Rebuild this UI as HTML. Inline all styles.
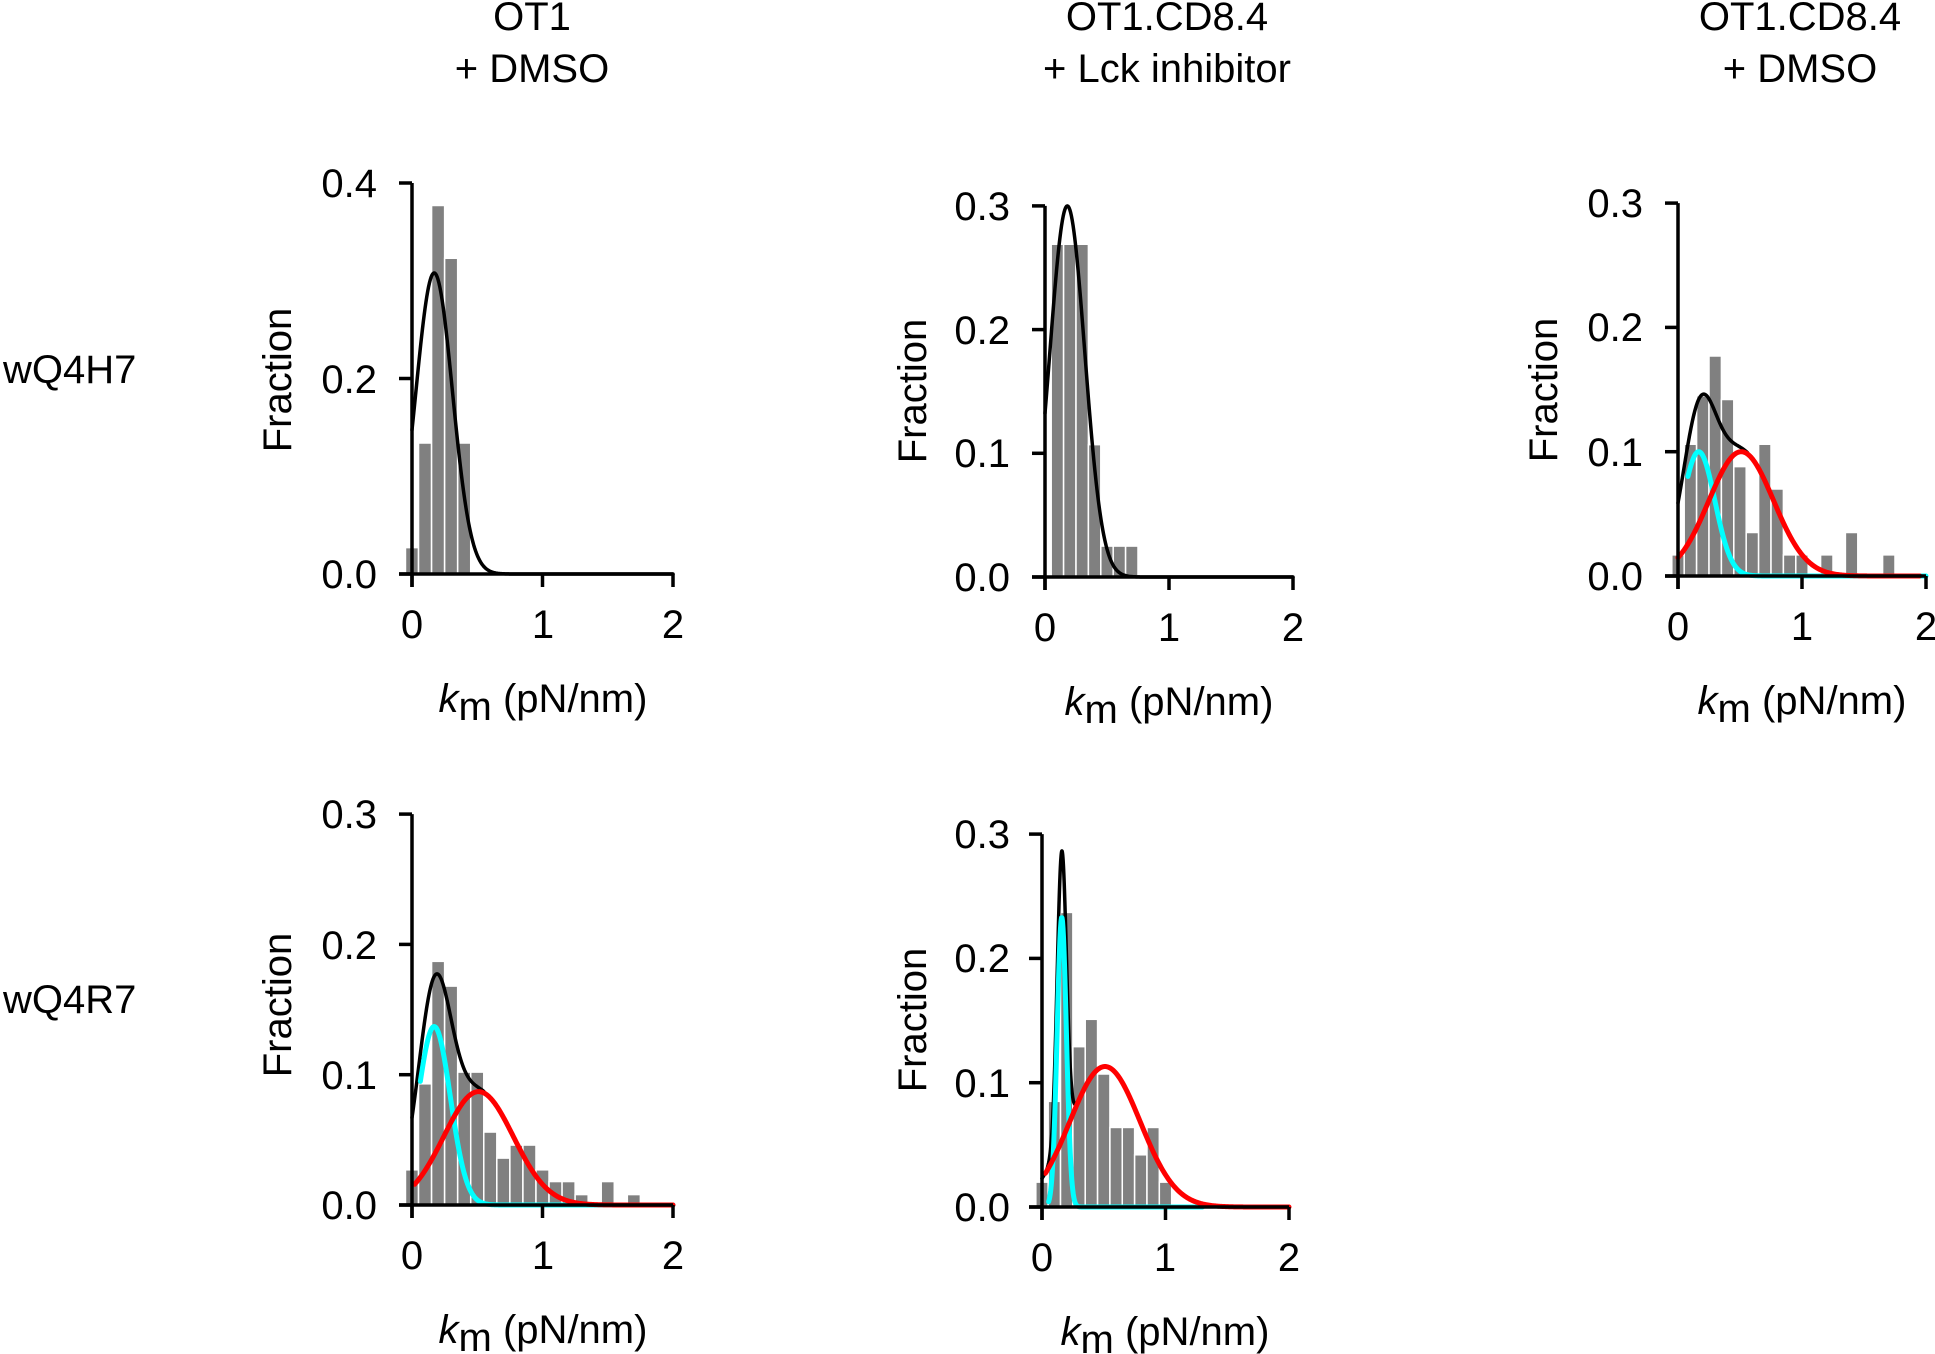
<!DOCTYPE html>
<html><head><meta charset="utf-8"><style>
html,body{margin:0;padding:0;background:#fff;}
svg{display:block;}
text{font-family:"Liberation Sans",Arial,sans-serif;font-size:40px;fill:#000;}
</style></head><body>
<svg id="s" width="1935" height="1354" viewBox="0 0 1935 1354" xmlns="http://www.w3.org/2000/svg">
<rect width="1935" height="1354" fill="#fff"/>
<g id="plots"></g>
<text x="532" y="30" text-anchor="middle">OT1</text>
<text x="532" y="82" text-anchor="middle">+ DMSO</text>
<text x="1167" y="30" text-anchor="middle">OT1.CD8.4</text>
<text x="1167" y="82" text-anchor="middle">+ Lck inhibitor</text>
<text x="1800" y="30" text-anchor="middle">OT1.CD8.4</text>
<text x="1800" y="82" text-anchor="middle">+ DMSO</text>
<text x="3" y="383">wQ4H7</text>
<text x="3" y="1013">wQ4R7</text>
<text x="377" y="588" text-anchor="end">0.0</text>
<text x="377" y="393" text-anchor="end">0.2</text>
<text x="377" y="197" text-anchor="end">0.4</text>
<text x="412" y="638" text-anchor="middle">0</text>
<text x="543" y="638" text-anchor="middle">1</text>
<text x="673" y="638" text-anchor="middle">2</text>
<text transform="translate(278,380) rotate(-90)" text-anchor="middle" dominant-baseline="central">Fraction</text>
<text x="543" y="712" text-anchor="middle"><tspan font-style="italic">k</tspan><tspan dy="8">m</tspan><tspan dy="-8"> (pN/nm)</tspan></text>
<text x="1010" y="591" text-anchor="end">0.0</text>
<text x="1010" y="467" text-anchor="end">0.1</text>
<text x="1010" y="344" text-anchor="end">0.2</text>
<text x="1010" y="220" text-anchor="end">0.3</text>
<text x="1045" y="641" text-anchor="middle">0</text>
<text x="1169" y="641" text-anchor="middle">1</text>
<text x="1293" y="641" text-anchor="middle">2</text>
<text transform="translate(913,391) rotate(-90)" text-anchor="middle" dominant-baseline="central">Fraction</text>
<text x="1169" y="715" text-anchor="middle"><tspan font-style="italic">k</tspan><tspan dy="8">m</tspan><tspan dy="-8"> (pN/nm)</tspan></text>
<text x="1643" y="590" text-anchor="end">0.0</text>
<text x="1643" y="466" text-anchor="end">0.1</text>
<text x="1643" y="341" text-anchor="end">0.2</text>
<text x="1643" y="217" text-anchor="end">0.3</text>
<text x="1678" y="640" text-anchor="middle">0</text>
<text x="1802" y="640" text-anchor="middle">1</text>
<text x="1926" y="640" text-anchor="middle">2</text>
<text transform="translate(1544,390) rotate(-90)" text-anchor="middle" dominant-baseline="central">Fraction</text>
<text x="1802" y="714" text-anchor="middle"><tspan font-style="italic">k</tspan><tspan dy="8">m</tspan><tspan dy="-8"> (pN/nm)</tspan></text>
<text x="377" y="1219" text-anchor="end">0.0</text>
<text x="377" y="1089" text-anchor="end">0.1</text>
<text x="377" y="959" text-anchor="end">0.2</text>
<text x="377" y="828" text-anchor="end">0.3</text>
<text x="412" y="1269" text-anchor="middle">0</text>
<text x="543" y="1269" text-anchor="middle">1</text>
<text x="673" y="1269" text-anchor="middle">2</text>
<text transform="translate(278,1005) rotate(-90)" text-anchor="middle" dominant-baseline="central">Fraction</text>
<text x="543" y="1343" text-anchor="middle"><tspan font-style="italic">k</tspan><tspan dy="8">m</tspan><tspan dy="-8"> (pN/nm)</tspan></text>
<text x="1010" y="1221" text-anchor="end">0.0</text>
<text x="1010" y="1097" text-anchor="end">0.1</text>
<text x="1010" y="972" text-anchor="end">0.2</text>
<text x="1010" y="848" text-anchor="end">0.3</text>
<text x="1042" y="1271" text-anchor="middle">0</text>
<text x="1165" y="1271" text-anchor="middle">1</text>
<text x="1289" y="1271" text-anchor="middle">2</text>
<text transform="translate(913,1020) rotate(-90)" text-anchor="middle" dominant-baseline="central">Fraction</text>
<text x="1165" y="1345" text-anchor="middle"><tspan font-style="italic">k</tspan><tspan dy="8">m</tspan><tspan dy="-8"> (pN/nm)</tspan></text>
</svg>
<script>
(function(){
var NS="http://www.w3.org/2000/svg",g=document.getElementById("plots");
function el(n,a){var e=document.createElementNS(NS,n);for(var k in a)e.setAttribute(k,a[k]);g.appendChild(e);return e;}
function G(A,m,v){return function(x){return A*Math.exp(-(x-m)*(x-m)/(2*v));};}
function sum(f,h){return function(x){return f(x)+h(x);};}
var P=[
{ox:412,oy:574,sx:130.5,sy:977.5,top:0.4,yt:[0,0.2,0.4],k0:0,bars:[0.027,0.134,0.377,0.323,0.134],
 curves:[{f:G(0.308,0.17,0.0196),a:0,b:2,c:"#000",w:3.5}]},
{ox:1045,oy:577,sx:124,sy:1237,top:0.3,yt:[0,0.1,0.2,0.3],k0:1,bars:[0.269,0.269,0.269,0.107,0.025,0.025,0.025],
 curves:[{f:G(0.3,0.18,0.0198),a:0,b:2,c:"#000",w:3.5}]},
{ox:1678,oy:576,sx:124,sy:1243,top:0.3,yt:[0,0.1,0.2,0.3],k0:0,bars:[0.017,0.106,0.145,0.177,0.142,0.088,0.035,0.106,0.07,0.017,0.017,0,0.017,0,0.035,0,0,0.017],
 cy:G(0.1,0.167,0.017),rd:G(0.1,0.51,0.068),ca:0.08,cb:2,ra:0,rb:1.95,bb:0.56},
{ox:412,oy:1205,sx:130.5,sy:1303,top:0.3,yt:[0,0.1,0.2,0.3],k0:0,bars:[0.027,0.093,0.187,0.168,0.102,0.102,0.056,0.036,0.046,0.046,0.027,0.018,0.018,0.008,0,0.018,0,0.008],
 cy:G(0.137,0.17,0.0153),rd:G(0.087,0.51,0.0706),ca:0.064,cb:2,ra:0.02,rb:2,bb:0.55},
{ox:1042,oy:1207,sx:123.5,sy:1243,top:0.3,yt:[0,0.1,0.2,0.3],k0:0,bars:[0.02,0.085,0.237,0.129,0.151,0.107,0.064,0.064,0.042,0.064,0.02],
 cy:G(0.233,0.16,0.0014),rd:G(0.113,0.51,0.0816),ca:0.054,cb:1.3,ra:0.027,rb:2,bb:0.3}
];
P.forEach(function(p){
  var X=function(x){return p.ox+x*p.sx;},Y=function(y){return p.oy-y*p.sy;};
  p.bars.forEach(function(h,i){if(h<=0)return;var k=i+p.k0;
    el("rect",{x:X(k*0.1-0.05),y:Y(h),width:0.1*p.sx,height:h*p.sy,fill:"#808080",stroke:"#fff","stroke-width":1.5});});
  function curve(f,a,b,c,w){var d="";for(var i=0;i<=300;i++){var x=a+(b-a)*i/300;d+=(i?"L":"M")+X(x).toFixed(2)+","+Y(f(x)).toFixed(2);}
    el("path",{d:d,fill:"none",stroke:c,"stroke-width":w,"stroke-linejoin":"round","stroke-linecap":"round"});}
  if(p.curves){p.curves.forEach(function(c){curve(c.f,c.a,c.b,c.c,c.w);});}
  else{
    curve(sum(p.cy,p.rd),0,p.bb,"#000",3.5);
    curve(p.cy,p.ca,p.cb,"#00ffff",5);
    curve(p.rd,p.ra,p.rb,"#ff0000",5);
  }
  var top=Y(p.top);
  el("path",{d:"M"+p.ox+","+(p.oy+13)+"L"+p.ox+","+top,stroke:"#000","stroke-width":3.5,fill:"none"});
  el("path",{d:"M"+(p.ox-13)+","+p.oy+"L"+X(2)+","+p.oy,stroke:"#000","stroke-width":3.5,fill:"none"});
  p.yt.forEach(function(t){el("path",{d:"M"+(p.ox-13)+","+Y(t)+"L"+p.ox+","+Y(t),stroke:"#000","stroke-width":3.5});});
  [0,1,2].forEach(function(t){el("path",{d:"M"+X(t)+","+p.oy+"L"+X(t)+","+(p.oy+13),stroke:"#000","stroke-width":3.5});});
});
})();
</script>
</body></html>
